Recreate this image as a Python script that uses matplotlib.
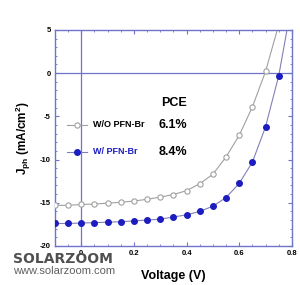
import matplotlib
matplotlib.use("Agg")
import matplotlib.pyplot as plt
from matplotlib.ticker import MultipleLocator

plt.rcParams['font.family'] = ['Liberation Sans', 'DejaVu Sans']
plt.rcParams['mathtext.fontset'] = 'custom'
plt.rcParams['mathtext.rm'] = 'Liberation Sans:bold'
plt.rcParams['mathtext.it'] = 'Liberation Sans:bold'
plt.rcParams['mathtext.bf'] = 'Liberation Sans:bold'
plt.rcParams['axes.unicode_minus'] = False

# Data
voltage = [-0.1, -0.05, 0.0, 0.05, 0.1, 0.15, 0.2, 0.25, 0.3, 0.35, 0.4, 0.45,
           0.5, 0.55, 0.6, 0.65, 0.7, 0.75]
j_wo = [-15.3, -15.3, -15.2, -15.15, -15.05, -14.95, -14.8, -14.6, -14.35, -14.05,
        -13.6, -12.8, -11.7, -9.7, -7.2, -3.9, 0.2, None]
j_w = [-17.4, -17.4, -17.35, -17.3, -17.25, -17.2, -17.1, -17.0, -16.9, -16.65,
       -16.4, -16.0, -15.4, -14.4, -12.75, -10.3, -6.2, -0.3]
# fitted-line end points beyond the last marker (top edge)
fit_end_wo = (0.75, 5.6)
fit_end_w = (0.785, 5.6)

label_wo = "W/O PFN-Br"
label_w = "W/ PFN-Br"
pce_wo = "6.1%"
pce_w = "8.4%"

frame_c = '#6f74c8'
blue = '#1c1cc0'
gray = '#a0a0a0'

fig = plt.figure(figsize=(3.0, 2.85), dpi=100)
ax = fig.add_axes([0.183, 0.137, 0.790, 0.758])

v_wo = [v for v, j in zip(voltage, j_wo) if j is not None]
jj_wo = [j for j in j_wo if j is not None]

ax.plot(v_wo + [fit_end_wo[0]], jj_wo + [fit_end_wo[1]], color=gray, lw=0.8, zorder=2)
ax.plot(voltage + [fit_end_w[0]], j_w + [fit_end_w[1]], color='#8080b8', lw=0.8, zorder=2)
ax.plot(v_wo, jj_wo, 'o', ms=3.8, mfc='white', mec=gray, mew=0.8, zorder=3)
ax.plot(voltage, j_w, 'o', ms=4.0, mfc=blue, mec=blue, zorder=3)

ax.axhline(0, color=frame_c, lw=0.9, zorder=1)
ax.axvline(0, color=frame_c, lw=0.9, zorder=1)

ax.set_xlim(-0.1, 0.8)
ax.set_ylim(-20, 5)
ax.xaxis.set_minor_locator(MultipleLocator(0.05))
ax.yaxis.set_major_locator(MultipleLocator(5))
ax.yaxis.set_minor_locator(MultipleLocator(1))
ax.set_xticks([0, 0.2, 0.4, 0.6, 0.8])
ax.set_xticklabels(['0', '0.2', '0.4', '0.6', '0.8'])

for s in ax.spines.values():
    s.set_color(frame_c)
    s.set_linewidth(1.0)
ax.tick_params(which='both', direction='in', color=frame_c, top=True, right=True,
               labelsize=5.5, pad=3)
ax.tick_params(which='major', length=3)
ax.tick_params(which='minor', length=1.5)
for t in ax.get_xticklabels() + ax.get_yticklabels():
    t.set_fontweight('bold')

ax.set_xlabel('Voltage (V)', fontsize=9, fontweight='bold', labelpad=9)
ax.set_ylabel(r'$J_{ph}$ (mA/cm$^{2}$)', fontsize=8.5, fontweight='bold', labelpad=5)

# legend-like annotations
ax.plot([-0.055, 0.02], [-6.0, -6.0], color=gray, lw=0.8)
ax.plot([-0.016], [-6.0], 'o', ms=3.8, mfc='white', mec=gray, mew=0.8)
ax.plot([-0.055, 0.02], [-9.1, -9.1], color='#8080b8', lw=0.8)
ax.plot([-0.016], [-9.1], 'o', ms=4.0, mfc=blue, mec=blue)
ax.text(0.045, -6.0, label_wo, fontsize=6.5, fontweight='bold', va='center')
ax.text(0.045, -9.1, label_w, fontsize=6.5, fontweight='bold', va='center', color=blue)
ax.text(0.305, -3.4, "PCE", fontsize=9, fontweight='bold', va='center')
ax.text(0.295, -6.0, pce_wo, fontsize=9, fontweight='bold', va='center')
ax.text(0.295, -9.1, pce_w, fontsize=9, fontweight='bold', va='center')

# watermark
fig.text(0.043, 0.092, "SOLARZOOM", fontsize=10, fontweight='bold', color='#505050',
         va='center', family='DejaVu Sans')
fig.text(0.045, 0.049, "www.solarzoom.com", fontsize=8, color='#606060', va='center')

fig.savefig('out.png', dpi=100)
